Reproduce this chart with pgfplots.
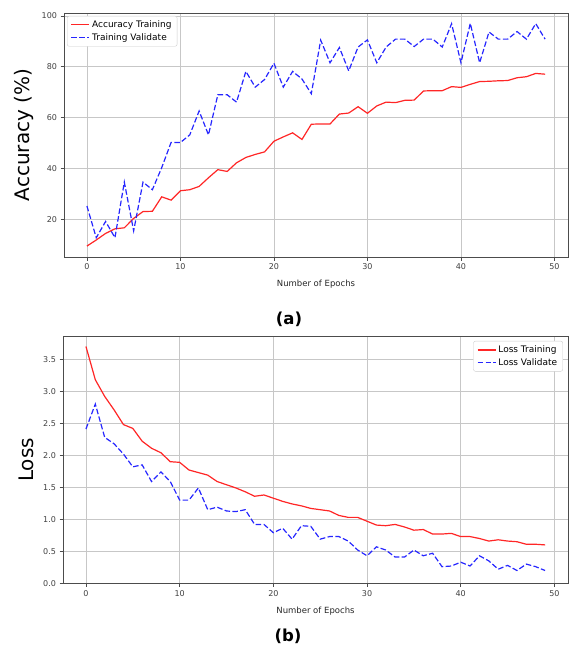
\documentclass[border=0pt]{standalone}
\usepackage{fontspec}
\setmainfont{DejaVu Sans}
\usepackage{pgfplots}
\usepackage{pgfplotstable}
\pgfplotsset{compat=1.18}
\definecolor{trainred}{rgb}{1,0.15,0.15}
\definecolor{valblue}{rgb}{0.15,0.15,1}

\pgfplotstableread{
epoch train val
0 9.4 25.2
1 11.8 12.7
2 14.4 19.1
3 16.2 12.7
4 16.6 34.6
5 20.3 15.4
6 23.0 34.6
7 23.1 31.6
8 28.8 40.3
9 27.5 50.2
10 31.2 50.2
11 31.6 53.2
12 32.9 62.6
13 36.3 53.2
14 39.5 69.0
15 38.8 69.0
16 42.2 66.1
17 44.3 78.2
18 45.5 72.0
19 46.5 75.0
20 50.7 81.4
21 52.4 72.0
22 54.0 78.2
23 51.4 75.2
24 57.4 69.4
25 57.5 90.5
26 57.5 81.6
27 61.4 87.6
28 61.8 78.4
29 64.3 87.8
30 61.7 90.6
31 64.6 81.6
32 66.1 87.8
33 65.9 90.9
34 66.8 90.9
35 66.9 88.0
36 70.5 90.9
37 70.6 90.9
38 70.6 87.8
39 72.2 97.0
40 71.9 81.6
41 73.1 97.1
42 74.2 81.6
43 74.3 93.7
44 74.5 90.9
45 74.6 90.9
46 75.7 93.9
47 76.1 90.9
48 77.4 97.0
49 77.1 90.9
}\acctable

\pgfplotstableread{
epoch train val
0 3.70 2.41
1 3.18 2.80
2 2.92 2.28
3 2.71 2.18
4 2.48 2.02
5 2.42 1.82
6 2.22 1.85
7 2.11 1.59
8 2.04 1.74
9 1.90 1.59
10 1.89 1.30
11 1.77 1.30
12 1.73 1.49
13 1.69 1.15
14 1.59 1.19
15 1.54 1.13
16 1.49 1.12
17 1.43 1.15
18 1.36 0.92
19 1.38 0.92
20 1.33 0.79
21 1.28 0.86
22 1.24 0.69
23 1.21 0.90
24 1.17 0.89
25 1.15 0.69
26 1.13 0.73
27 1.06 0.73
28 1.03 0.66
29 1.03 0.52
30 0.97 0.43
31 0.91 0.57
32 0.90 0.52
33 0.92 0.41
34 0.88 0.41
35 0.83 0.52
36 0.84 0.43
37 0.77 0.47
38 0.77 0.26
39 0.78 0.27
40 0.73 0.33
41 0.73 0.27
42 0.70 0.43
43 0.66 0.35
44 0.68 0.22
45 0.66 0.28
46 0.65 0.20
47 0.61 0.30
48 0.61 0.26
49 0.60 0.20
}\losstable

\pgfplotsset{
  curvepanel/.style={
    scale only axis, width=504pt,
    xmin=-2.45, xmax=51.45,
    xtick={0,10,...,50},
    grid=major, major grid style={black!22, line width=0.7pt},
    axis line style={black!70, line width=0.8pt},
    tick align=outside, xtick pos=bottom, ytick pos=left,
    major tick length=3.5pt,
    every tick/.style={black!70, line width=0.8pt},
    tick label style={font=\fontsize{8}{9}\selectfont, text=black!75},
    /pgf/number format/assume math mode=true,
    xlabel={Number of Epochs},
    xlabel style={font=\fontsize{8.5}{10}\selectfont, text=black!85,
      at={(axis description cs:0.5,0)}, anchor=north, yshift=-20pt},
    ylabel style={font=\fontsize{20}{24}\selectfont, inner sep=0pt,
      at={(axis description cs:0,0.5)}, anchor=south},
    legend style={font=\fontsize{9}{10.5}\selectfont, draw=black!20,
      rounded corners=2pt, inner xsep=3.5pt, inner ysep=2.5pt,
      row sep=0.5pt, cells={anchor=west}},
    legend cell align=left,
    legend image code/.code={
      \draw[#1, line width=1.4pt] (0pt,0pt) -- (18pt,0pt);},
  },
  trainline/.style={trainred, line width=1.2pt},
  valline/.style={valblue, line width=1.2pt, dash pattern=on 5.5pt off 2.4pt},
}

\begin{document}
\begin{tikzpicture}
\useasboundingbox (0,0) rectangle (570pt,-652pt);

\begin{axis}[curvepanel, at={(64pt,-13pt)}, anchor=north west,
  height=244pt, ymin=5.1, ymax=101.2,
  ytick={20,40,...,100},
  ylabel={Accuracy (\%)}, ylabel style={yshift=30pt},
  legend style={at={(0.006,0.988)}, anchor=north west},
]
\addplot[trainline] table[x=epoch, y=train] {\acctable};
\addplot[valline] table[x=epoch, y=val] {\acctable};
\legend{Accuracy Training, Training Validate}
\end{axis}
\node at (289pt,-319pt) {\fontsize{16.5}{19}\selectfont\bfseries (a)};

\begin{axis}[curvepanel, at={(63pt,-336.5pt)}, anchor=north west,
  width=505pt, height=246.8pt, ymin=0, ymax=3.856,
  ytick={0,0.5,...,3.5},
  yticklabel style={/pgf/number format/.cd, fixed, fixed zerofill, precision=1},
  ylabel={Loss}, ylabel style={yshift=29pt},
  legend style={at={(0.99,0.982)}, anchor=north east},
]
\addplot[trainline] table[x=epoch, y=train] {\losstable};
\addplot[valline] table[x=epoch, y=val] {\losstable};
\legend{Loss Training, Loss Validate}
\end{axis}
\node at (288pt,-636pt) {\fontsize{16.5}{19}\selectfont\bfseries (b)};
\end{tikzpicture}
\end{document}
